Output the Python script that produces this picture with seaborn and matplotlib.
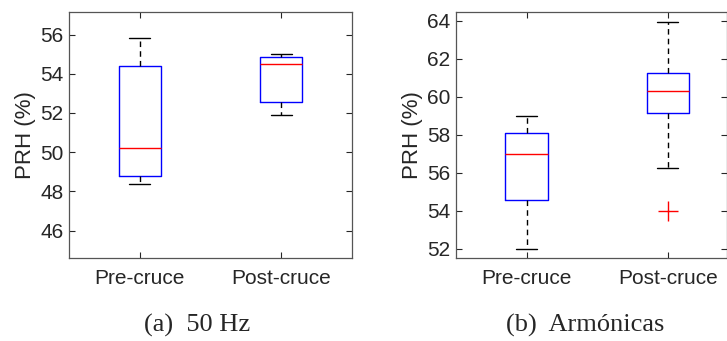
import numpy as np
import pandas as pd
import matplotlib
matplotlib.use('Agg')
import matplotlib.pyplot as plt
import seaborn as sns

groups = ['Pre-cruce', 'Post-cruce']

hz50_pre = [48.35, 48.8, 50.2, 54.4, 55.8]
hz50_post = [51.9, 52.55, 54.5, 54.85, 55.0]

arm_pre = [52.0, 54.55, 57.0, 58.1, 59.0]
arm_post = [54.0, 56.25, 59.15, 59.8, 60.3, 60.8, 61.25, 62.5, 63.9]

captions = ['(a)  50 Hz', '(b)  Armónicas']
ylabel = 'PRH (%)'
yticks_a = [46, 48, 50, 52, 54, 56]
yticks_b = [52, 54, 56, 58, 60, 62, 64]


def long_df(pre, post):
    return pd.DataFrame({
        'grupo': [groups[0]] * len(pre) + [groups[1]] * len(post),
        'valor': pre + post,
    })


sns.set_style('white')
plt.rcParams['font.family'] = ['Liberation Sans', 'DejaVu Sans']

AX_COLOR = '#262626'

fig = plt.figure(figsize=(7.27, 3.41), dpi=100)
ax_a = fig.add_axes([69 / 727, 83 / 341, 283 / 727, 246 / 341])
ax_b = fig.add_axes([456 / 727, 83 / 341, 271 / 727, 246 / 341])

box_kws = dict(
    fill=False, width=0.3, whis=1.5, linewidth=1.0,
    boxprops={'color': 'blue'},
    medianprops={'color': 'red'},
    whiskerprops={'color': 'black', 'linestyle': (0, (4, 3))},
    capprops={'color': 'black'},
    flierprops={'marker': '+', 'markeredgecolor': 'red', 'markersize': 14,
                'markeredgewidth': 1.0},
)

panels = [
    (ax_a, long_df(hz50_pre, hz50_post), (44.6, 57.15), yticks_a, (-0.5, 1.5), -0.117),
    (ax_b, long_df(arm_pre, arm_post), (51.5, 64.45), yticks_b, (-0.5, 1.42), -0.122),
]

for ax, df, ylim, yticks, xlim, lab_x in panels:
    sns.boxplot(data=df, x='grupo', y='valor', order=groups, ax=ax, **box_kws)
    ax.set_ylim(*ylim)
    ax.set_xlim(*xlim)
    ax.set_yticks(yticks)
    ax.set_xlabel('')
    ax.set_ylabel(ylabel, fontsize=16, color=AX_COLOR)
    ax.yaxis.set_label_coords(lab_x, 0.5)
    ax.tick_params(direction='in', length=4, width=0.8, colors=AX_COLOR,
                   labelsize=15, top=True, right=True, left=True, bottom=True)
    ax.tick_params(axis='y', pad=4)
    ax.tick_params(axis='x', pad=8)
    for s in ax.spines.values():
        s.set_visible(True)
        s.set_color('#555555')
        s.set_linewidth(0.9)

# captions below each panel, Times-like
fig.text(197 / 727, 1 - 325 / 341, captions[0], ha='center', va='center',
         fontsize=19, family='Liberation Serif')
fig.text(585 / 727, 1 - 325 / 341, captions[1], ha='center', va='center',
         fontsize=19, family='Liberation Serif')

fig.savefig('out.png', dpi=100)
